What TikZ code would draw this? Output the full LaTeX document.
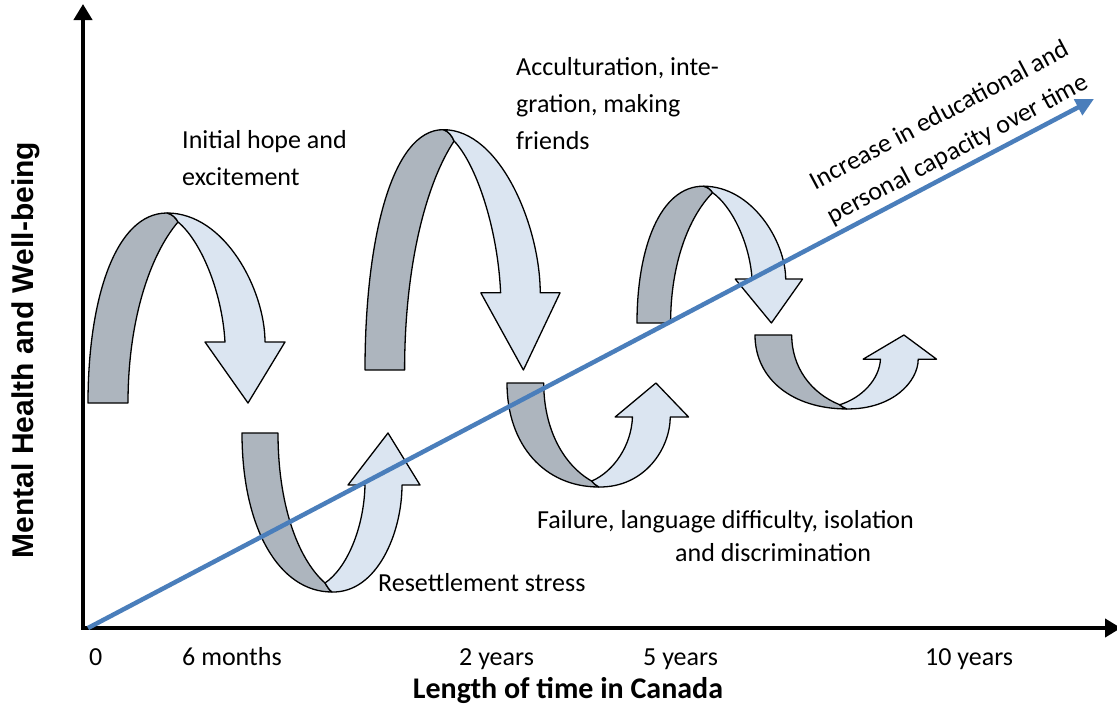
\documentclass[tikz,border=0pt]{standalone}
\usepackage{fontspec}
\setmainfont{Carlito}
\newfontfamily\arialfont{Liberation Sans}
\usetikzlibrary{arrows.meta}
\definecolor{darkband}{HTML}{ADB5BE}
\definecolor{lightband}{HTML}{DBE5F1}
\definecolor{trendblue}{HTML}{4A7EBB}
\newcommand\humparrow[3]{%
\begin{scope}[shift={#1}, xscale=#2, yscale=#3]
 \path[backband] (0,0) .. controls (0,-103) and (27,-190) .. (79,-190) .. controls (84,-189) and (88,-185) .. (90,-181) .. controls (62,-148) and (40,-83) .. (40,0) -- cycle;
 \path[frontband] (79,-190) .. controls (137,-190) and (177,-113) .. (177,-61) -- (197,-61) -- (160,0) -- (117,-61) -- (137,-61) .. controls (134,-113) and (112,-163) .. (90,-181) .. controls (88,-185) and (84,-189) .. (79,-190) -- cycle;
\end{scope}}
\newcommand\cuparrow[3]{%
\begin{scope}[shift={#1}, xscale=#2, yscale=#3]
 \path[backband] (0,0) .. controls (0,95) and (37,159) .. (90,159) .. controls (87,157) and (85,153) .. (83,150) .. controls (55,125) and (36,70) .. (36,0) -- cycle;
 \path[frontband] (90,159) .. controls (135,160) and (160,100) .. (160,52) -- (178,52) -- (146,0) -- (106,52) -- (123,52) .. controls (122,95) and (105,135) .. (83,150) .. controls (85,153) and (87,157) .. (90,159) -- cycle;
\end{scope}}
\begin{document}
\begin{tikzpicture}[x=1pt,y=-1pt,
  band/.style={draw=black, line width=1.3pt, line join=round},
  backband/.style={band, fill=darkband},
  frontband/.style={band, fill=lightband},
  axisline/.style={line width=4pt, {Triangle[length=16pt,width=18pt]}-{Triangle[length=16pt,width=18pt]}},
  trend/.style={draw=trendblue, line width=4.5pt, -{Triangle[length=18pt,width=17pt]}},
  lbl/.style={inner sep=0pt, font=\fontsize{26}{37}\selectfont, align=left, anchor=north west},
  tick/.style={inner sep=0pt, font=\fontsize{26}{37}\selectfont, anchor=base west},
]
\useasboundingbox[fill=white] (0,0) rectangle (1117,704);
% curved arrows
\humparrow{(88,403)}{1}{1}
\cuparrow{(242,433)}{1}{1}
\humparrow{(365,370)}{0.99}{1.265}
\cuparrow{(507,383)}{1.02}{0.654}
\humparrow{(637,323)}{0.84}{0.72}
\cuparrow{(755,335)}{1.02}{0.465}
% axes
\coordinate (ytop) at (83,4);
\coordinate (corner) at (83,628);
\coordinate (xend) at (1121,628);
\draw[axisline] (ytop) -- (corner) -- (xend);
% trend line
\coordinate (O) at (88,628);
\coordinate (E) at (1094,99);
\draw[trend] (O) -- (E);
% labels
\node[lbl] (hope) at (182,130) {Initial hope and\\excitement};
\node[lbl] (accult) at (516,57) {Acculturation, inte-\\gration, making\\friends};
\node[lbl] (reset) at (378,573) {Resettlement stress};
\node[lbl, font=\fontsize{26}{33}\selectfont] (fail) at (537,510) {Failure, language difficulty, isolation\\\hspace*{138pt}and discrimination};
\node[inner sep=0pt, font=\fontsize{26}{38}\selectfont, align=center, rotate=28] (incr) at (949,133) {Increase in educational and\\personal capacity over time};
% ticks
\node[tick] (t0) at (89,665) {0};
\node[tick] (t6m) at (182,665) {6 months};
\node[tick] (t2y) at (459,665) {2 years};
\node[tick] (t5y) at (643,665) {5 years};
\node[tick] (t10y) at (925,665) {10 years};
% axis titles
\node[inner sep=0pt, font=\fontsize{30}{36}\selectfont\bfseries, anchor=base] (xtitle) at (568,698) {Length of time in Canada};
\node[inner sep=0pt, font=\arialfont\fontsize{30}{36}\selectfont\bfseries, anchor=base, rotate=90] (ytitle) at (33,350) {Mental Health and Well-being};
\end{tikzpicture}
\end{document}
